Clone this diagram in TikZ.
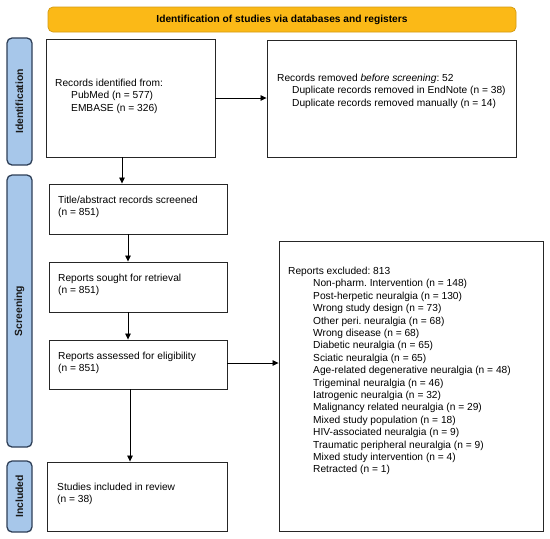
\documentclass[tikz,border=0pt]{standalone}
\usepackage{fontspec}
\setmainfont{Liberation Sans}
\frenchspacing
\usetikzlibrary{arrows.meta}
\definecolor{bannerfill}{HTML}{FBB917}
\definecolor{bannerdraw}{HTML}{D49A12}
\definecolor{barfill}{HTML}{A7C7EA}
\definecolor{bardraw}{HTML}{2E3F57}
\tikzset{
  x=1pt, y=-1pt,
  box/.style={draw=black!85, line width=0.9pt, inner sep=0pt},
  boxtext/.style={anchor=north west, align=left, inner sep=0pt, font=\fontsize{10.2}{12.4}\selectfont},
  bar/.style={draw=bardraw, fill=barfill, line width=1.3pt, rounded corners=5pt},
  barlabel/.style={rotate=90, font=\fontsize{10.4}{12}\selectfont\bfseries, text=black!90},
  banner/.style={draw=bannerdraw, fill=bannerfill, line width=0.7pt, rounded corners=5pt},
  arr/.style={draw=black, line width=0.8pt, -{Triangle[length=6pt,width=5.5pt]}}
}
\begin{document}
\begin{tikzpicture}
\useasboundingbox (0,0) rectangle (550,539);
% banner
\draw[banner] (48,7) rectangle (516,32);
\node[font=\fontsize{10.2}{12}\selectfont\bfseries] (bantext) at (282,20) {Identification of studies via databases and registers};
% side bars
\draw[bar] (7,38) rectangle (32,165);
\node[barlabel] (lab1) at (19.5,101.5) {Identification};
\draw[bar] (7,175) rectangle (32,447);
\node[barlabel] (lab2) at (19.5,311) {Screening};
\draw[bar] (7,461) rectangle (32,532);
\node[barlabel] (lab3) at (19.5,496.5) {Included};
% boxes
\node[box, minimum width=169pt, minimum height=118pt] (rec) at (130.5,98) {};
\node[boxtext] (rect) at (55,79) {Records identified from:\\\hspace{16pt}PubMed (n = 577)\\\hspace{16pt}EMBASE (n = 326)};
\node[box, minimum width=249pt, minimum height=117pt] (rem) at (391.5,98.5) {};
\node[boxtext] (remt) at (277,74) {Records removed \textit{before screening}: 52\\\hspace{15pt}Duplicate records removed in EndNote (n = 38)\\\hspace{15pt}Duplicate records removed manually (n = 14)};
\node[box, minimum width=178pt, minimum height=50pt] (tit) at (138,209) {};
\node[boxtext] (titt) at (58,196) {Title/abstract records screened\\(n = 851)};
\node[box, minimum width=178pt, minimum height=50pt] (sou) at (138,287) {};
\node[boxtext] (sout) at (58,274) {Reports sought for retrieval\\(n = 851)};
\node[box, minimum width=178pt, minimum height=49pt] (ass) at (138,364.5) {};
\node[boxtext] (asst) at (58,352) {Reports assessed for eligibility\\(n = 851)};
\node[box, minimum width=180pt, minimum height=69pt] (stu) at (137,496.5) {};
\node[boxtext] (stut) at (57,483) {Studies included in review\\(n = 38)};
\node[box, minimum width=264pt, minimum height=290pt] (exc) at (411,386) {};
\node[boxtext] (exct) at (288,267) {Reports excluded: 813\\
\hspace{25pt}Non-pharm. Intervention (n = 148)\\
\hspace{25pt}Post-herpetic neuralgia (n = 130)\\
\hspace{25pt}Wrong study design (n = 73)\\
\hspace{25pt}Other peri. neuralgia (n = 68)\\
\hspace{25pt}Wrong disease (n = 68)\\
\hspace{25pt}Diabetic neuralgia (n = 65)\\
\hspace{25pt}Sciatic neuralgia (n = 65)\\
\hspace{25pt}Age-related degenerative neuralgia (n = 48)\\
\hspace{25pt}Trigeminal neuralgia (n = 46)\\
\hspace{25pt}Iatrogenic neuralgia (n = 32)\\
\hspace{25pt}Malignancy related neuralgia (n = 29)\\
\hspace{25pt}Mixed study population (n = 18)\\
\hspace{25pt}HIV-associated neuralgia (n = 9)\\
\hspace{25pt}Traumatic peripheral neuralgia (n = 9)\\
\hspace{25pt}Mixed study intervention (n = 4)\\
\hspace{25pt}Retracted (n = 1)};
% arrows
\draw[arr] (rec.east |- 0,98) -- (rem.west |- 0,98);
\draw[arr] (rec.south -| 122,0) -- (tit.north -| 122,0);
\draw[arr] (tit.south -| 128,0) -- (sou.north -| 128,0);
\draw[arr] (sou.south -| 128,0) -- (ass.north -| 128,0);
\draw[arr] (ass.east |- 0,363) -- (exc.west |- 0,363);
\draw[arr] (ass.south -| 130,0) -- (stu.north -| 130,0);
\end{tikzpicture}
\end{document}
